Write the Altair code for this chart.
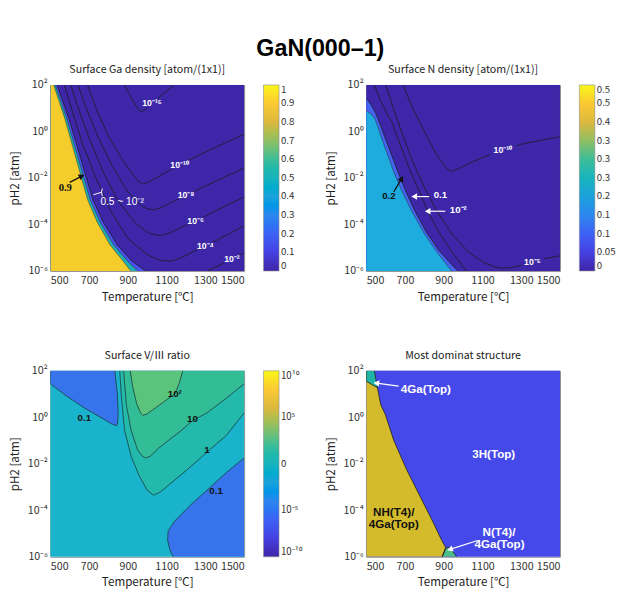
import math
import altair as alt
import pandas as pd

# ---------------- colour map (parula) ----------------
PARULA = ["#3e26a8", "#4640e2", "#3d62f5", "#2d86ef", "#1ba2db",
          "#17b4bd", "#3dbd98", "#8fbf64", "#dcb83e", "#fbc933", "#f8f719"]

X_TICKS = [500, 700, 900, 1100, 1300, 1500]
Y_TICKS = [-6, -4, -2, 0, 2]          # log10(pH2 / atm)

# ---------------- Surface Ga density ----------------
GA_EDGE_LP = [2, 1.375, 0.54, -0.43, -1.68, -2.93, -3.9, -4.875, -5.57, -6]
GA_YELLOW_T = [517, 542, 575, 608, 650, 692, 742, 808, 875, 915]
GA_TEAL_T = [525, 551, 585, 619, 662, 705, 757, 826, 897, 950]
GA_BLUE_T = [535, 561, 596, 631, 675, 719, 773, 845, 920, 992]

GA_C15_T = [883, 920, 950, 967, 990, 1025, 1080, 1140]
GA_C15_LP = [2, 1.4, 1.0, 0.85, 0.95, 1.2, 1.6, 2]
GA_C10_T = [692, 740, 800, 870, 930, 955, 975, 1000, 1050, 1167, 1300, 1400, 1500]
GA_C10_LP = [2, 0.9, -0.2, -1.2, -1.9, -2.15, -2.26, -2.2, -1.98, -1.43, -0.88, -0.5, -0.12]
GA_C8_T = [642, 690, 750, 820, 900, 970, 1000, 1033, 1070, 1200, 1350, 1500]
GA_C8_LP = [2, 0.9, -0.3, -1.5, -2.6, -3.2, -3.33, -3.37, -3.28, -2.75, -2.15, -1.57]
GA_C6_T = [605, 648, 705, 770, 850, 940, 1010, 1067, 1110, 1250, 1380, 1500]
GA_C6_LP = [2, 0.9, -0.4, -1.7, -3.0, -3.95, -4.38, -4.48, -4.38, -3.85, -3.3, -2.82]
GA_C4_T = [572, 612, 665, 730, 810, 900, 1000, 1070, 1125, 1170, 1300, 1400, 1500]
GA_C4_LP = [2, 0.9, -0.5, -1.9, -3.4, -4.6, -5.3, -5.55, -5.58, -5.45, -4.92, -4.5, -4.06]
GA_C2_T = [1310, 1437, 1500]
GA_C2_LP = [-6, -5.5, -5.22]

GA_LABELS = ["10⁻¹⁵", "10⁻¹⁰", "10⁻⁸", "10⁻⁶", "10⁻⁴", "10⁻²"]
GA_LABEL_T = [1025, 1167, 1200, 1250, 1300, 1437]
GA_LABEL_LP = [1.2, -1.43, -2.75, -3.85, -4.92, -5.5]

# ---------------- Surface N density ----------------
N_CYAN_T = [500, 525, 545, 560, 580, 606, 645, 686, 736, 800, 866, 940]
N_CYAN_LP = [0.89, 0.75, 0.55, 0.2, -0.3, -0.9, -1.8, -2.6, -3.45, -4.4, -5.2, -6]
N_BLUE_T = [500, 525, 548, 568, 592, 624, 662, 703, 750, 812, 878, 972]
N_BLUE_LP = [1.44, 1.15, 0.8, 0.4, -0.15, -0.85, -1.7, -2.55, -3.4, -4.35, -5.15, -6]

N_C2_T = [542, 575, 608, 633, 657, 690, 730, 773, 817, 877, 940, 1017]
N_C2_LP = [2, 1.3, 0.75, 0.4, -0.15, -0.9, -1.75, -2.55, -3.43, -4.35, -5.15, -6]
N_C5_T = [600, 640, 690, 740, 800, 870, 950, 1030, 1110, 1160, 1200, 1250, 1300, 1358, 1430, 1500]
N_C5_LP = [2, 1.0, -0.2, -1.3, -2.4, -3.5, -4.5, -5.2, -5.65, -5.82, -5.88, -5.85, -5.75, -5.6, -5.45, -5.35]
N_C10_T = [690, 740, 800, 860, 905, 935, 970, 1050, 1150, 1205, 1300, 1400, 1500]
N_C10_LP = [2, 1.0, 0.0, -0.95, -1.5, -1.72, -1.62, -1.3, -0.95, -0.8, -0.55, -0.38, -0.23]

N_LABELS = ["10⁻¹⁰", "10⁻⁵"]
N_LABEL_T = [1205, 1358]
N_LABEL_LP = [-0.8, -5.6]

# ---------------- Surface V/III ratio ----------------
V_UL_LP = [-0.36, -0.29, -0.08, 0.13, 0.4, 0.96, 1.1, 1.44, 2]
V_UL_LEFT_T = [842, 817, 775, 731, 675, 575, 553, 500, 500]
V_UL_RIGHT_T = [842, 846, 849, 850, 849, 846, 845, 840, 833]

V_LR_LP = [-6, -5.71, -5.29, -4.875, -4.46, -3.76, -3.14, -2.375, -1.75]
V_LR_T = [1133, 1117, 1105, 1108, 1142, 1225, 1308, 1408, 1500]

V_C1_T = [858, 867, 883, 917, 958, 1000, 1033, 1070, 1108, 1208, 1308, 1408, 1500]
V_C1_LP = [2, 0.82, -0.57, -1.68, -2.51, -3.14, -3.35, -3.2, -2.93, -2.24, -1.5, -0.78, 0.19]
V_C10_T = [878, 892, 917, 950, 975, 992, 1015, 1058, 1175, 1233, 1308, 1408, 1500]
V_C10_LP = [2, 0.54, -0.57, -1.4, -1.68, -1.75, -1.68, -1.33, -0.57, -0.15, 0.19, 0.82, 1.44]
V_C100_T = [912, 925, 945, 965, 978, 1000, 1050, 1100, 1142, 1165, 1183]
V_C100_LP = [2, 1.3, 0.6, 0.2, 0.08, 0.15, 0.45, 0.75, 1.0, 1.45, 2]

V_LABELS = ["0.1", "10²", "10", "1", "0.1"]
V_LABEL_T = [675, 1142, 1233, 1308, 1355]
V_LABEL_LP = [-0.05, 0.99, -0.08, -1.4, -3.17]

# ---------------- Most dominant structure ----------------
S_YELLOW_LP = [-6, -5.6, -5.3, -4.46, -3.35, -2.24, -0.99, 0.09, 0.54, 1.27, 2]
S_YELLOW_T = [892, 910, 890, 842, 775, 708, 642, 600, 575, 558, 542]
S_TEAL_LP = [1.27, 1.55, 2]
S_TEAL_LEFT_T = [558, 500, 500]
S_TEAL_RIGHT_T = [558, 552, 542]
S_GREEN_T = [892, 912, 930, 967]
S_GREEN_LP = [-6, -5.62, -5.6, -6]

# ---------------- shared scales / axes ----------------
XS = alt.Scale(domain=[500, 1500], nice=False, zero=False)
YS = alt.Scale(domain=[-6, 2], nice=False, zero=False)
PX_T = 200 / 1000      # plot pixels per degree
PX_LP = 192 / 8        # plot pixels per decade

Y_LABEL_EXPR = ("datum.value == 2 ? '10²' : datum.value == 0 ? '10⁰' : "
                "datum.value == -2 ? '10⁻²' : datum.value == -4 ? '10⁻⁴' : '10⁻⁶'")

X_AXIS = alt.Axis(values=X_TICKS, format="d", title="Temperature [℃]", ticks=False,
                  domain=False, grid=False, labelPadding=4, titlePadding=6)
Y_AXIS = alt.Axis(values=Y_TICKS, labelExpr=Y_LABEL_EXPR, title="pH2 [atm]", ticks=False,
                  domain=False, grid=False, labelPadding=3, titlePadding=6)


def xq(field):
    return alt.X(f"{field}:Q", scale=XS, axis=X_AXIS, stack=None)


def yq(field):
    return alt.Y(f"{field}:Q", scale=YS, axis=Y_AXIS, stack=None)


def background(color):
    df = pd.DataFrame({"T0": [500], "T1": [1500], "lp0": [-6], "lp1": [2]})
    return alt.Chart(df).mark_rect(color=color).encode(
        x=xq("T0"), x2="T1:Q", y=yq("lp0"), y2="lp1:Q")


def region_h(lp, left, right, color):
    """Filled region bounded left/right by two temperature curves along log p."""
    n = len(lp)
    left = left if isinstance(left, list) else [left] * n
    right = right if isinstance(right, list) else [right] * n
    df = pd.DataFrame({"lp": lp, "a": left, "b": right})
    return alt.Chart(df).mark_area(orient="horizontal", color=color, opacity=1,
                                   clip=True).encode(y=yq("lp"), x=xq("a"), x2="b:Q")


def region_v(T, lp, top, color):
    """Filled region between a curve and a fixed log p."""
    df = pd.DataFrame({"T": T, "lp": lp, "top": [top] * len(T)})
    return alt.Chart(df).mark_area(orient="vertical", color=color, opacity=1,
                                   clip=True).encode(x=xq("T"), y=yq("lp"), y2="top:Q")


def curves(series, color="#1c1c1c", width=0.8):
    rows = []
    for name, (ts, ls) in series.items():
        for j, (t, l) in enumerate(zip(ts, ls)):
            rows.append({"name": name, "T": t, "lp": l, "i": j})
    return alt.Chart(pd.DataFrame(rows)).mark_line(
        color=color, strokeWidth=width, clip=True).encode(
        x=xq("T"), y=yq("lp"), detail="name:N", order=alt.Order("i:Q"))


def labels(texts, T, lp, color, size=10, font="Liberation Sans", weight="bold", backdrop=None):
    df = pd.DataFrame({"txt": texts, "T": T, "lp": lp,
                       "w": [(len(t) * size * 0.55 + 4) ** 2 for t in texts]})
    text = alt.Chart(df).mark_text(color=color, fontSize=size, font=font,
                                   fontWeight=weight).encode(text="txt:N", x=xq("T"), y=yq("lp"))
    if backdrop is None:
        return [text]
    box = alt.Chart(df).mark_point(
        shape="M-1,-0.32L1,-0.32L1,0.32L-1,0.32Z", filled=True, opacity=1,
        color=backdrop, strokeWidth=0).encode(
        x=xq("T"), y=yq("lp"), size=alt.Size("w:Q", scale=None))
    return [box, text]


def arrow(tail, tip, color, width=1.2, head=45):
    ang = math.degrees(math.atan2((tip[0] - tail[0]) * PX_T, (tip[1] - tail[1]) * PX_LP)) % 360
    df = pd.DataFrame({"T": [tail[0]], "lp": [tail[1]], "T2": [tip[0]], "lp2": [tip[1]], "ang": [ang]})
    shaft = alt.Chart(df).mark_rule(color=color, strokeWidth=width).encode(
        x=xq("T"), y=yq("lp"), x2="T2:Q", y2="lp2:Q")
    tip_mark = alt.Chart(df).mark_point(shape="triangle-up", filled=True, opacity=1,
                                        color=color, size=head, strokeWidth=0).encode(
        x=xq("T2"), y=yq("lp2"), angle=alt.Angle("ang:Q", scale=None))
    return [shaft, tip_mark]


def colorbar(domain, ticks, fmt=None, label_expr=None):
    n = len(domain)
    df = pd.DataFrame({"v": domain, "T": [500] * n, "lp": [-6] * n})
    leg = dict(values=ticks, title=None, orient="right", offset=20, padding=0,
               gradientLength=192, gradientThickness=16, labelOverlap=False,
               gradientStrokeColor="#8a8a8a", gradientStrokeWidth=0.6)
    if fmt:
        leg["format"] = fmt
    if label_expr:
        leg["labelExpr"] = label_expr
    return alt.Chart(df).mark_point(opacity=0).encode(
        x=xq("T"), y=yq("lp"),
        color=alt.Color("v:Q", scale=alt.Scale(domain=domain, range=PARULA),
                        legend=alt.Legend(**leg)))


def panel(title, layers):
    return alt.layer(*layers).properties(
        width=200, height=192,
        title=alt.TitleParams(title, fontSize=11, fontWeight="normal", offset=4,
                              font="Noto Sans CJK JP", color="#222222"))


DARK = "#3e26a8"

# ---- panel 1
ga = panel("Surface Ga density [atom/(1x1)]", [
    background(DARK),
    region_h(GA_EDGE_LP, 500, GA_BLUE_T, "#4a52ee"),
    region_h(GA_EDGE_LP, 500, GA_TEAL_T, "#1fb2b0"),
    region_h(GA_EDGE_LP, 500, GA_YELLOW_T, "#f4cd2c"),
    curves({"e1": (GA_YELLOW_T, GA_EDGE_LP), "e2": (GA_TEAL_T, GA_EDGE_LP)}, "#2a2a2a", 0.5),
    curves({"e3": (GA_BLUE_T, GA_EDGE_LP), "c15": (GA_C15_T, GA_C15_LP),
            "c10": (GA_C10_T, GA_C10_LP), "c8": (GA_C8_T, GA_C8_LP),
            "c6": (GA_C6_T, GA_C6_LP), "c4": (GA_C4_T, GA_C4_LP),
            "c2": (GA_C2_T, GA_C2_LP)}),
    *labels(GA_LABELS, GA_LABEL_T, GA_LABEL_LP, "white", 9, backdrop=DARK),
    *labels(["0.9"], [577], [-2.44], "#111111", 11, "Liberation Serif"),
    *labels(["0.5 ~ 10⁻²"], [870], [-3.02], "white", 10.5, weight="normal"),
    *arrow((600, -2.19), (662, -1.92), "#111111"),
    curves({"b1": ([722, 762], [-2.72, -2.62]), "b2": ([768, 764, 768], [-2.45, -2.6, -2.78])},
           "white", 1.0),
    colorbar([i / 10 for i in range(11)], [i / 10 for i in range(11)], fmt="~g"),
])

# ---- panel 2
n_panel = panel("Surface N density [atom/(1x1)]", [
    background(DARK),
    region_h(N_BLUE_LP, 500, N_BLUE_T, "#4563f0"),
    region_h(N_CYAN_LP, 500, N_CYAN_T, "#1eacdf"),
    curves({"e1": (N_CYAN_T, N_CYAN_LP)}, "#2a2a2a", 0.5),
    curves({"e2": (N_BLUE_T, N_BLUE_LP), "c2": (N_C2_T, N_C2_LP),
            "c5": (N_C5_T, N_C5_LP), "c10": (N_C10_T, N_C10_LP)}),
    *labels(N_LABELS, N_LABEL_T, N_LABEL_LP, "white", 9, backdrop=DARK),
    *labels(["0.2"], [617], [-2.8], "#111111", 10),
    *arrow((642, -2.6), (683, -2.03), "#111111"),
    *labels(["0.1", "10⁻²"], [883, 975], [-2.73, -3.38], "white", 10),
    *arrow((825, -2.8), (748, -2.8), "white"),
    *arrow((908, -3.43), (817, -3.43), "white"),
    colorbar([i / 20 for i in range(11)], [i / 20 for i in range(11)], fmt="~g"),
])

# ---- panel 3
V_EXPR = ("datum.value == 10 ? '10¹⁰' : datum.value == 5 ? '10⁵' : datum.value == 0 ? '0' : "
          "datum.value == -5 ? '10⁻⁵' : '10⁻¹⁰'")
v_panel = panel("Surface V/Ⅲ ratio", [
    background("#19b4cc"),
    region_v(V_C1_T, V_C1_LP, 2, "#23b9ab"),
    region_v(V_C10_T, V_C10_LP, 2, "#32bd96"),
    region_v(V_C100_T, V_C100_LP, 2, "#5ac37c"),
    region_h(V_UL_LP, V_UL_LEFT_T, V_UL_RIGHT_T, "#3774ec"),
    region_h(V_LR_LP, V_LR_T, 1500, "#3774ec"),
    curves({"c1": (V_C1_T, V_C1_LP), "c10": (V_C10_T, V_C10_LP), "c100": (V_C100_T, V_C100_LP),
            "ulA": (V_UL_LEFT_T, V_UL_LP), "ulB": (V_UL_RIGHT_T, V_UL_LP),
            "lr": (V_LR_T, V_LR_LP)}, "#1c3a3a", 0.8),
    *labels(V_LABELS, V_LABEL_T, V_LABEL_LP, "#111111", 10),
    colorbar(list(range(-10, 11, 2)), [-10, -5, 0, 5, 10], label_expr=V_EXPR),
])

# ---- panel 4
s_panel = panel("Most dominat structure", [
    background("#4549ea"),
    region_h(S_YELLOW_LP, 500, S_YELLOW_T, "#d3bb2b"),
    region_h(S_TEAL_LP, S_TEAL_LEFT_T, S_TEAL_RIGHT_T, "#1fb3a6"),
    region_v(S_GREEN_T, S_GREEN_LP, -6, "#4dbf86"),
    curves({"y": (S_YELLOW_T, S_YELLOW_LP), "t": (S_TEAL_LEFT_T, S_TEAL_LP),
            "g": (S_GREEN_T, S_GREEN_LP)}, "#1c1c1c", 0.8),
    *labels(["4Ga(Top)", "3H(Top)", "N(T4)/", "4Ga(Top)"],
            [808, 1158, 1185, 1188], [1.2, -1.57, -4.95, -5.47], "white", 12),
    *labels(["NH(T4)/", "4Ga(Top)"], [642, 642], [-4.06, -4.6], "#111111", 12),
    *arrow((667, 1.34), (552, 1.47), "white"),
    *arrow((1075, -5.3), (932, -5.68), "white"),
])

chart = alt.concat(ga, n_panel, v_panel, s_panel, columns=2,
                   spacing={"row": 48, "column": 20}).resolve_scale(
    color="independent").resolve_legend(color="independent").properties(
    title=alt.TitleParams("GaN(000–1)", fontSize=24, font="Liberation Sans",
                          fontWeight="bold", anchor="middle", color="#000000",
                          offset=3, dx=8),
    padding={"left": 8, "top": 29, "right": 5, "bottom": 5},
).configure_axis(
    labelFont="Noto Sans CJK JP", titleFont="Noto Sans CJK JP",
    labelFontSize=11, titleFontSize=12, labelColor="#333333", titleColor="#222222",
    titleFontWeight="normal",
).configure_legend(
    labelFont="Noto Sans CJK JP", labelFontSize=10, labelColor="#333333",
).configure_view(stroke="#8c8c8c", strokeWidth=1)

chart.save("out.html", embed_options={"renderer": "svg", "actions": False})
